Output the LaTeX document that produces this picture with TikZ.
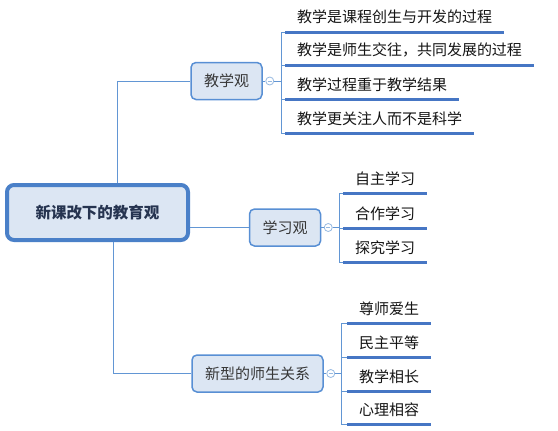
\documentclass[tikz,border=0pt]{standalone}
\usepackage{fontspec}
\newfontfamily\cjk{Noto Sans CJK SC}
\definecolor{boxfill}{RGB}{220,230,243}
\definecolor{boxline}{RGB}{88,143,212}
\definecolor{rootline}{RGB}{74,128,200}
\definecolor{lineblue}{RGB}{98,150,212}
\definecolor{ulblue}{RGB}{70,118,196}
\definecolor{knobline}{RGB}{150,185,225}
\definecolor{txt}{RGB}{20,20,20}
\definecolor{roottxt}{RGB}{38,52,80}
\begin{document}
\begin{tikzpicture}[x=1pt,y=-1pt,
  rootbox/.style={draw=rootline, line width=4pt, fill=boxfill, rounded corners=7pt,
    minimum width=181pt, minimum height=55pt, inner sep=0pt,
    font=\cjk\bfseries\fontsize{15.5}{18}\selectfont, text=roottxt},
  topic/.style={draw=boxline, line width=1.5pt, fill=boxfill, rounded corners=5pt,
    inner xsep=13pt, inner ysep=0pt, minimum height=37pt,
    font=\cjk\fontsize{15}{17}\selectfont, text=txt!85},
  knob/.style={circle, draw=knobline, fill=white, line width=0.8pt, minimum size=8pt, inner sep=0pt,
    path picture={\draw[knobline, line width=0.8pt] ([xshift=1.8pt]path picture bounding box.west) -- ([xshift=-1.8pt]path picture bounding box.east);}},
  leaf/.style={anchor=south west, inner xsep=12pt, inner ysep=7pt, outer sep=0pt,
    text height=11pt, text depth=2pt, font=\cjk\fontsize{15}{17}\selectfont, text=txt},
  link/.style={draw=lineblue, line width=0.9pt},
  under/.style={draw=ulblue, line width=3pt}
]
\useasboundingbox (0,0) rectangle (558,431);

% main nodes
\node[rootbox] (root) at (97.5,212.5) {新课改下的教育观};
\node[topic] (b1) at (226.5,81) {教学观};
\node[topic] (b2) at (285,227.5) {学习观};
\node[topic] (b3) at (257.5,373.5) {新型的师生关系};

\node[knob] (k1) at ([xshift=7pt]b1.east) {};
\node[knob] (k2) at ([xshift=7pt]b2.east) {};
\node[knob] (k3) at ([xshift=7pt]b3.east) {};

% leaves
\node[leaf] (a1) at (285,32) {教学是课程创生与开发的过程};
\node[leaf] (a2) at (285,65) {教学是师生交往，共同发展的过程};
\node[leaf] (a3) at (285,99) {教学过程重于教学结果};
\node[leaf] (a4) at (285,133) {教学更关注人而不是科学};

\node[leaf] (c1) at (343,193) {自主学习};
\node[leaf] (c2) at (343,228) {合作学习};
\node[leaf] (c3) at (343,262) {探究学习};

\node[leaf] (d1) at (347,323) {尊师爱生};
\node[leaf] (d2) at (347,357) {民主平等};
\node[leaf] (d3) at (347,391) {教学相长};
\node[leaf] (d4) at (347,424) {心理相容};

% root connectors
\draw[link] ([xshift=20pt]root.north) |- (b1.west);
\draw[link] ([xshift=16pt]root.south) |- (b3.west);
\draw[link] (b2.west -| root.east) -- (b2.west);

% topic to knobs
\draw[link] (b1.east) -- (k1.west);
\draw[link] (b2.east) -- (k2.west);
\draw[link] (b3.east) -- (k3.west);

% branches
\foreach \c in {a1,a2,a3,a4} \draw[link] (k1.east) -- ++(7,0) |- (\c.south west);
\foreach \c in {c1,c2,c3} \draw[link] (k2.east) -- ++(7,0) |- (\c.south west);
\foreach \c in {d1,d2,d3,d4} \draw[link] (k3.east) -- ++(6,0) |- (\c.south west);

% underlines
\foreach \c in {a1,a2,a3,a4,c1,c2,c3,d1,d2,d3,d4}
  \draw[under] (\c.south west) -- (\c.south east);
\end{tikzpicture}
\end{document}
